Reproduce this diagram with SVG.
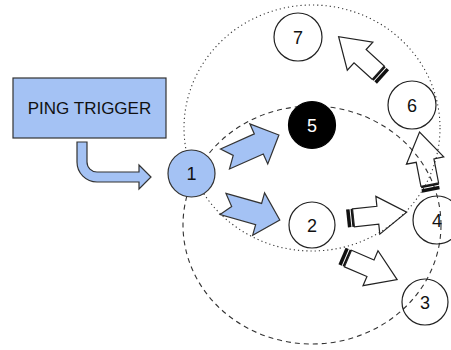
<svg xmlns="http://www.w3.org/2000/svg" xmlns:xlink="http://www.w3.org/1999/xlink" width="451" height="350" viewBox="0 0 451 350">
<style>
.range{fill:none;stroke:#333;stroke-width:1.1}
.dotted{stroke-dasharray:1.2 3}
.dashed{stroke-dasharray:5 4}
.node{fill:#fff;stroke:#222;stroke-width:1.2}
.open{fill:none;stroke:#222;stroke-width:1.2}
.blue{fill:#a4c2f4;stroke:#333;stroke-width:1.2}
.black{fill:#000;stroke:#000;stroke-width:1.2}
.lbl{font-family:"Liberation Sans",Arial,sans-serif;font-size:18px;text-anchor:middle;fill:#111}
.box{font-family:"Liberation Sans",Arial,sans-serif;font-size:17px;text-anchor:middle;fill:#111}
</style>
<defs>
<g id="stripeArrow">
<rect x="0" y="-9" width="3.5" height="18" fill="#111"/>
<rect x="4.5" y="-9" width="2" height="18" fill="#111"/>
<path d="M6.5,-9 H31 V-19 L60,0 L31,19 V9 H6.5 Z" fill="none" stroke="#222" stroke-width="1.2"/>
</g>
<path id="notchArrow" d="M0,-11 L37,-11 L37,-22 L59,0 L37,22 L37,11 L0,11 L9,0 Z"/>
</defs>
<g id="ranges">
<ellipse class="range dotted" cx="312" cy="128" rx="128" ry="123"/>
<ellipse class="range dashed" cx="312" cy="225" rx="129" ry="119"/>
</g>
<g id="node-3"><circle class="open" cx="425" cy="302" r="23"/><text class="lbl" x="425" y="308.5">3</text></g>
<g id="node-4"><circle class="open" cx="437" cy="220" r="24"/><text class="lbl" x="437" y="226.5">4</text></g>
<g id="connectors">
<path class="blue" d="M77,142 V162 A20,20 0 0 0 97,182 H139 V189 L151,177 L139,165 V172 H97 A10,10 0 0 1 87,162 V142 Z"/>
<use xlink:href="#notchArrow" class="blue" transform="translate(225,159) rotate(-24)"/>
<use xlink:href="#notchArrow" class="blue" transform="translate(223,204) rotate(15.7)"/>
<use xlink:href="#stripeArrow" transform="translate(347,218.5) rotate(-6)"/>
<use xlink:href="#stripeArrow" transform="translate(342,256) rotate(23.2)"/>
<use xlink:href="#stripeArrow" transform="translate(431,191) rotate(-101)"/>
<use xlink:href="#stripeArrow" transform="translate(383,77) rotate(-137.7)"/>
</g>
<g id="ping-trigger"><rect class="blue" x="13" y="78" width="153" height="60"/><text class="box" x="89.5" y="114">PING TRIGGER</text></g>
<g id="node-1"><circle class="blue" cx="191.5" cy="173.5" r="23.5"/><text class="lbl" x="191.5" y="180">1</text></g>
<g id="node-2"><circle class="node" cx="312" cy="225" r="23"/><text class="lbl" x="312" y="231.5">2</text></g>
<g id="node-5"><circle class="black" cx="312" cy="125" r="23.5"/><text class="lbl" x="312" y="131.5" fill="#fff" style="fill:#fff">5</text></g>
<g id="node-6"><circle class="node" cx="412" cy="105" r="24"/><text class="lbl" x="412" y="111.5">6</text></g>
<g id="node-7"><circle class="node" cx="298" cy="37" r="24"/><text class="lbl" x="298" y="43.5">7</text></g>
</svg>
